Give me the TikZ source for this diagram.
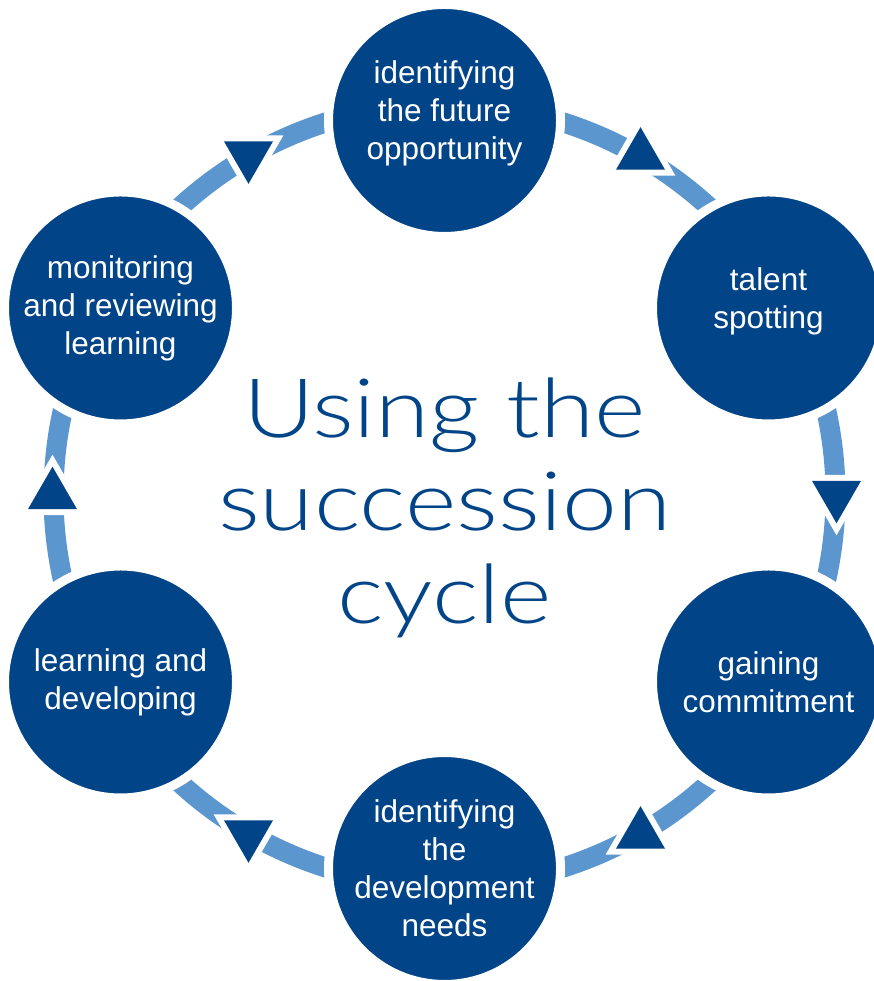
\documentclass[tikz,border=0pt]{standalone}
\usepackage{fontspec}
\setmainfont{Liberation Sans}
\newfontfamily\titlefont[FakeStretch=1.2]{Lato Light}
\usetikzlibrary{shapes.geometric}
\definecolor{navy}{RGB}{2,68,136}
\definecolor{lightband}{RGB}{91,150,207}
\begin{document}
\begin{tikzpicture}[x=1pt,y=1pt,
  circ/.style={circle, fill=navy, draw=white, line width=9pt, minimum size=232pt, inner sep=0pt},
  ctext/.style={text=white, align=center, font=\fontsize{31.5pt}{38pt}\selectfont},
  band/.style={draw=lightband, line width=20pt},
  triup/.style={regular polygon, regular polygon sides=3, minimum size=56.6pt, inner sep=0pt, outer sep=0pt, fill=navy, preaction={draw=white, line width=12pt, fill=white}},
  tridown/.style={triup, shape border rotate=180},
  titletext/.style={text=navy, align=center, font=\titlefont\fontsize{82pt}{93pt}\selectfont}
]
\useasboundingbox (0,0) rectangle (874,981);
\coordinate (O) at (444.5,486);
\foreach \a [count=\i] in {90,30,-30,-90,-150,150}
  \coordinate (a\i) at ([shift={(\a:391)}]O);
% band arcs
\draw[band] (a1) arc[start angle=90, end angle=30, radius=391];
\draw[band] (a2) arc[start angle=30, end angle=-30, radius=391];
\draw[band] (a3) arc[start angle=-30, end angle=-90, radius=391];
\draw[band] (a4) arc[start angle=-90, end angle=-150, radius=391];
\draw[band] (a5) arc[start angle=-150, end angle=-210, radius=391];
\draw[band] (a6) arc[start angle=150, end angle=90, radius=391];
% arrowheads
\node[triup]   (r1) at ([shift={(60:392)}]O) {};
\node[tridown] (r2) at ([shift={(0:392)}]O) {};
\node[triup]   (r3) at ([shift={(-60:392)}]O) {};
\node[tridown] (r4) at ([shift={(-120:392)}]O) {};
\node[triup]   (r5) at ([shift={(180:392)}]O) {};
\node[tridown] (r6) at ([shift={(120:392)}]O) {};
% circles
\node[circ] (c1) at (444.5,860.5) {};
\node[circ] (c2) at (768.5,673) {};
\node[circ] (c3) at (768.5,299) {};
\node[circ] (c4) at (444.5,112.5) {};
\node[circ] (c5) at (120.5,299) {};
\node[circ] (c6) at (120.5,673) {};
% texts
\node[ctext] (t1) at ([yshift=7pt]c1.center) {identifying\\the future\\opportunity};
\node[ctext] (t2) at ([yshift=7pt]c2.center) {talent\\spotting};
\node[ctext] (t3) at (c3.center) {gaining\\commitment};
\node[ctext] (t4) at (c4.center) {identifying\\the\\development\\needs};
\node[ctext] (t5) at (c5.center) {learning and\\developing};
\node[ctext] (t6) at (c6.center) {monitoring\\and reviewing\\learning};
\node[titletext] (title) at (444.5,473) {Using the\\succession\\cycle};
\end{tikzpicture}
\end{document}
